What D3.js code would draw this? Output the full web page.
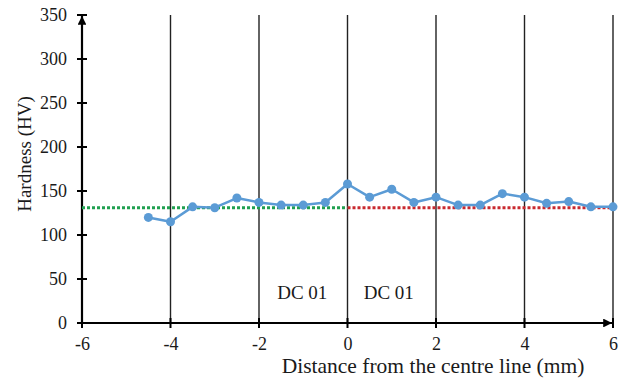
<!DOCTYPE html>
<html>
<head>
<meta charset="utf-8">
<script src="https://cdn.jsdelivr.net/npm/d3@7"></script>
<style>
  body { margin: 0; background: #fff; }
  svg text { font-family: "Liberation Serif", "Times New Roman", serif; fill: #1a1a1a; }
</style>
</head>
<body>
<svg id="chart" width="628" height="380"></svg>
<script>
// hardness readings across the weld
const distance = [-4.5, -4, -3.5, -3, -2.5, -2, -1.5, -1, -0.5, 0, 0.5, 1, 1.5, 2, 2.5, 3, 3.5, 4, 4.5, 5, 5.5, 6];
const hardness = [120, 115, 132, 131, 142, 137, 134, 134, 137, 158, 143, 152, 137, 143, 134, 134, 147, 143, 136, 138, 132, 132];

// base metal reference levels (left / right)
const baseLeft = [[-6, 131], [0, 131]];
const baseRight = [[0, 131], [6, 131]];

const xTicks = [-6, -4, -2, 0, 2, 4, 6];
const yTicks = [0, 50, 100, 150, 200, 250, 300, 350];
const zoneLines = [-4, -2, 0, 2, 4, 6];
const zoneLabels = [{x: -1, text: "DC 01"}, {x: 1, text: "DC 01"}];

const svg = d3.select("#chart");
const serif = '"Liberation Serif", "Times New Roman", serif';

const x = d3.scaleLinear().domain([-6, 6]).range([82, 613]);
const y = d3.scaleLinear().domain([0, 350]).range([323, 15]);

// arrow heads
const defs = svg.append("defs");
defs.append("marker")
    .attr("id", "arrow")
    .attr("viewBox", "0 0 10 10")
    .attr("refX", 10).attr("refY", 5)
    .attr("markerWidth", 4).attr("markerHeight", 4)
    .attr("orient", "auto")
    .append("path")
    .attr("d", "M0,0 L10,5 L0,10 z")
    .attr("fill", "#000");

// vertical zone lines
svg.append("g")
    .selectAll("line")
    .data(zoneLines)
    .join("line")
    .attr("x1", d => x(d)).attr("x2", d => x(d))
    .attr("y1", y(350)).attr("y2", y(0))
    .attr("stroke", "#222")
    .attr("stroke-width", 1.4);

// y axis
const yAxis = svg.append("g")
    .attr("transform", "translate(" + x(-6) + ",0)")
    .call(d3.axisLeft(y).tickValues(yTicks).tickSize(0).tickPadding(15));
yAxis.attr("font-family", serif);
yAxis.select(".domain").remove();
yAxis.selectAll("text").attr("font-size", 18);

svg.append("g")
    .selectAll("line")
    .data(yTicks)
    .join("line")
    .attr("x1", x(-6) - 5).attr("x2", x(-6) + 5)
    .attr("y1", d => y(d)).attr("y2", d => y(d))
    .attr("stroke", "#000").attr("stroke-width", 2);

svg.append("line")
    .attr("x1", x(-6)).attr("x2", x(-6))
    .attr("y1", y(0) + 1).attr("y2", y(350) + 1)
    .attr("stroke", "#000").attr("stroke-width", 2.2)
    .attr("marker-end", "url(#arrow)");

// x axis
const xAxis = svg.append("g")
    .attr("transform", "translate(0," + y(0) + ")")
    .call(d3.axisBottom(x).tickValues(xTicks).tickFormat(d => String(d)).tickSize(0).tickPadding(14));
xAxis.attr("font-family", serif);
xAxis.select(".domain").remove();
xAxis.selectAll("text").attr("font-size", 18);

svg.append("g")
    .selectAll("line")
    .data(xTicks)
    .join("line")
    .attr("x1", d => x(d)).attr("x2", d => x(d))
    .attr("y1", y(0) - 5).attr("y2", y(0) + 5)
    .attr("stroke", "#000").attr("stroke-width", 2);

svg.append("line")
    .attr("x1", x(-6)).attr("x2", x(6) - 1)
    .attr("y1", y(0)).attr("y2", y(0))
    .attr("stroke", "#000").attr("stroke-width", 2.2)
    .attr("marker-end", "url(#arrow)");

// base reference dotted lines
const line = d3.line().x(d => x(d[0])).y(d => y(d[1]));
svg.append("path")
    .datum(baseLeft)
    .attr("d", line)
    .attr("fill", "none")
    .attr("stroke", "#20a050")
    .attr("stroke-width", 3)
    .attr("stroke-dasharray", "3,2");
svg.append("path")
    .datum(baseRight)
    .attr("d", line)
    .attr("fill", "none")
    .attr("stroke", "#c8282e")
    .attr("stroke-width", 3)
    .attr("stroke-dasharray", "3,2");

// hardness series
const pts = distance.map((d, i) => [d, hardness[i]]);
svg.append("path")
    .datum(pts)
    .attr("d", line)
    .attr("fill", "none")
    .attr("stroke", "#5b9bd5")
    .attr("stroke-width", 2.5)
    .attr("stroke-linejoin", "round");
svg.append("g")
    .selectAll("circle")
    .data(pts)
    .join("circle")
    .attr("cx", d => x(d[0]))
    .attr("cy", d => y(d[1]))
    .attr("r", 4.5)
    .attr("fill", "#5b9bd5");

// zone labels
svg.append("g")
    .selectAll("text")
    .data(zoneLabels)
    .join("text")
    .attr("x", d => x(d.x))
    .attr("dx", d => d.x < 0 ? -1 : -3)
    .attr("y", 299)
    .attr("text-anchor", "middle")
    .attr("font-size", 19)
    .text(d => d.text);

// axis titles
svg.append("text")
    .attr("x", 433).attr("y", 373)
    .attr("text-anchor", "middle")
    .attr("font-size", 21.5)
    .text("Distance from the centre line (mm)");

svg.append("text")
    .attr("transform", "translate(31,154) rotate(-90)")
    .attr("text-anchor", "middle")
    .attr("font-size", 19)
    .text("Hardness (HV)");
</script>
</body>
</html>
